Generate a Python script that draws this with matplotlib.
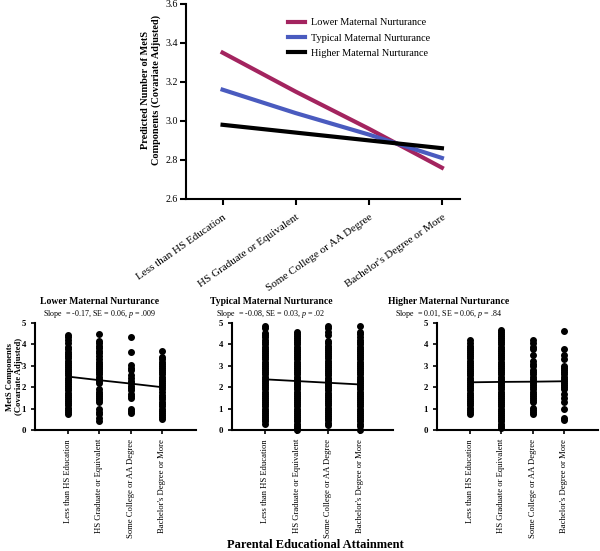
import matplotlib.pyplot as plt
import numpy as np

plt.rcParams['font.family'] = 'Liberation Serif'
plt.rcParams['mathtext.fontset'] = 'custom'
plt.rcParams['mathtext.it'] = 'Liberation Serif:italic'
plt.rcParams['mathtext.rm'] = 'Liberation Serif'

categories = ['Less than HS Education', 'HS Graduate or Equivalent',
              'Some College or AA Degree', "Bachelor's Degree or More"]

# predicted values (top panel)
lower_pred = [3.35, 3.15, 2.96, 2.76]
typical_pred = [3.16, 3.04, 2.93, 2.81]
higher_pred = [2.98, 2.94, 2.90, 2.86]
series_names = ['Lower Maternal Nurturance', 'Typical Maternal Nurturance', 'Higher Maternal Nurturance']
series_colors = ['#a3245f', '#4a5bbf', '#000000']

# scatter points per category (bottom panels)
lower_pts = [
    [0.75, 0.85, 0.95, 1.05, 1.15, 1.25, 1.35, 1.45, 1.55, 1.65, 1.75, 1.85, 1.95, 2.05, 2.15, 2.25,
     2.35, 2.45, 2.55, 2.65, 2.75, 2.85, 2.95, 3.05, 3.15, 3.25, 3.35, 3.45, 3.55, 3.65, 3.8, 3.9,
     4.05, 4.2, 4.35, 4.45],
    [0.4, 0.55, 0.75, 0.85, 1.0, 1.3, 1.4, 1.5, 1.6, 1.7, 1.8, 1.9, 2.2, 2.3, 2.4, 2.5, 2.6, 2.7,
     2.8, 2.9, 3.0, 3.1, 3.2, 3.3, 3.45, 3.6, 3.7, 3.85, 3.95, 4.05, 4.15, 4.5],
    [0.8, 0.9, 1.0, 1.5, 1.6, 1.7, 1.85, 1.95, 2.05, 2.2, 2.3, 2.45, 2.55, 2.8, 2.9, 3.05, 3.65, 4.35],
    [0.5, 0.6, 0.7, 0.8, 0.9, 1.0, 1.1, 1.2, 1.3, 1.45, 1.55, 1.65, 1.8, 1.9, 2.0, 2.1, 2.2, 2.3,
     2.4, 2.5, 2.6, 2.7, 2.8, 2.9, 3.0, 3.1, 3.2, 3.3, 3.4, 3.7],
]
lower_fit = [2.50, 2.33, 2.17, 2.00]

typical_pts = [
    [0.3, 0.4, 0.5, 0.6, 0.7, 0.8, 0.9, 1.0, 1.1, 1.2, 1.3, 1.4, 1.5, 1.6, 1.7, 1.8, 1.9, 2.0, 2.1,
     2.2, 2.3, 2.4, 2.5, 2.6, 2.7, 2.8, 2.9, 3.0, 3.1, 3.2, 3.3, 3.4, 3.5, 3.6, 3.7, 3.8, 3.9, 4.0,
     4.1, 4.2, 4.35, 4.45, 4.55, 4.75, 4.88],
    [0.0, 0.1, 0.2, 0.3, 0.4, 0.5, 0.6, 0.7, 0.8, 0.9, 1.0, 1.1, 1.2, 1.3, 1.4, 1.5, 1.6, 1.7, 1.8,
     1.9, 2.0, 2.1, 2.2, 2.3, 2.4, 2.5, 2.6, 2.7, 2.8, 2.9, 3.0, 3.1, 3.2, 3.3, 3.4, 3.5, 3.6, 3.7,
     3.8, 3.9, 4.0, 4.1, 4.2, 4.3, 4.4, 4.5, 4.6],
    [0.25, 0.35, 0.45, 0.55, 0.65, 0.75, 0.85, 0.95, 1.05, 1.15, 1.25, 1.35, 1.45, 1.55, 1.65, 1.75,
     1.85, 1.95, 2.05, 2.15, 2.25, 2.35, 2.45, 2.55, 2.65, 2.75, 2.85, 2.95, 3.05, 3.15, 3.25, 3.35,
     3.45, 3.55, 3.65, 3.75, 3.85, 3.95, 4.05, 4.15, 4.45, 4.6, 4.75, 4.85],
    [0.0, 0.2, 0.3, 0.4, 0.5, 0.6, 0.7, 0.8, 0.9, 1.0, 1.1, 1.2, 1.3, 1.4, 1.5, 1.6, 1.7, 1.8, 1.9,
     2.0, 2.1, 2.2, 2.3, 2.4, 2.5, 2.6, 2.7, 2.8, 2.9, 3.0, 3.1, 3.2, 3.3, 3.4, 3.5, 3.6, 3.7, 3.8,
     3.9, 4.0, 4.1, 4.2, 4.35, 4.5, 4.6, 4.85],
]
typical_fit = [2.37, 2.29, 2.21, 2.13]

higher_pts = [
    [0.75, 0.85, 0.95, 1.05, 1.15, 1.25, 1.35, 1.45, 1.55, 1.65, 1.75, 1.85, 1.95, 2.05, 2.15, 2.25,
     2.35, 2.45, 2.55, 2.65, 2.75, 2.85, 2.95, 3.05, 3.15, 3.25, 3.35, 3.45, 3.55, 3.65, 3.75, 3.85,
     3.95, 4.05, 4.2],
    [0.1, 0.2, 0.3, 0.4, 0.5, 0.6, 0.7, 0.8, 0.9, 1.0, 1.1, 1.2, 1.3, 1.4, 1.5, 1.6, 1.7, 1.8, 1.9,
     2.0, 2.1, 2.2, 2.3, 2.4, 2.5, 2.6, 2.7, 2.8, 2.9, 3.0, 3.1, 3.2, 3.3, 3.4, 3.5, 3.6, 3.7, 3.8,
     3.9, 4.0, 4.1, 4.2, 4.3, 4.4, 4.5, 4.6, 4.7],
    [0.75, 0.85, 0.95, 1.05, 1.3, 1.4, 1.5, 1.6, 1.7, 1.8, 1.9, 2.0, 2.1, 2.2, 2.3, 2.4, 2.5, 2.6,
     2.7, 2.8, 3.0, 3.1, 3.25, 3.5, 3.8, 3.9, 4.05, 4.2],
    [0.45, 0.55, 1.0, 1.3, 1.5, 1.7, 1.9, 2.0, 2.1, 2.2, 2.3, 2.4, 2.5, 2.6, 2.7, 2.8, 2.9, 3.0,
     3.3, 3.5, 3.8, 4.65],
]
higher_fit = [2.23, 2.25, 2.26, 2.28]

panel_titles = ['Lower Maternal Nurturance', 'Typical Maternal Nurturance', 'Higher Maternal Nurturance']
panel_stats = [r'Slope  = -0.17, SE = 0.06, $\it{p}$ = .009',
               r'Slope  = -0.08, SE = 0.03, $\it{p}$ = .02',
               r'Slope  = 0.01, SE = 0.06, $\it{p}$ = .84']

fig = plt.figure(figsize=(6, 5.51), dpi=100)

# top line chart
ax = fig.add_axes([0.31, 0.639, 0.457, 0.354])
x = np.arange(len(categories))
for vals, name, col in zip([lower_pred, typical_pred, higher_pred], series_names, series_colors):
    ax.plot(x, vals, color=col, lw=3, label=name)
ax.set_xlim(-0.5, 3.25)
ax.set_ylim(2.6, 3.6)
ax.set_yticks([2.6, 2.8, 3.0, 3.2, 3.4, 3.6])
ax.set_yticklabels(['2.6', '2.8', '3.0', '3.2', '3.4', '3.6'], fontsize=7.2)
ax.set_xticks(x)
ax.set_xticklabels(categories, rotation=35, ha='right', rotation_mode='anchor', fontsize=8)
ax.spines['top'].set_visible(False)
ax.spines['right'].set_visible(False)
ax.spines['left'].set_linewidth(1.5)
ax.spines['bottom'].set_linewidth(1.5)
ax.tick_params(width=1.5, length=4)
ax.tick_params(axis='y', pad=2)
ax.tick_params(axis='x', pad=6)
ax.set_ylabel('Predicted Number of MetS\nComponents (Covariate Adjusted)', fontsize=7.4,
              fontweight='bold')
ax.yaxis.set_label_coords(-0.09, 0.56)
ax.legend(loc='upper left', bbox_to_anchor=(0.34, 0.975), frameon=False, fontsize=7.4,
          handlelength=1.6, handletextpad=0.6, labelspacing=0.6)

# bottom scatter panels
lefts = [0.058, 0.387, 0.728]
for i, (pts, fit) in enumerate(zip([lower_pts, typical_pts, higher_pts],
                                   [lower_fit, typical_fit, higher_fit])):
    a = fig.add_axes([lefts[i], 0.2196, 0.268, 0.194])
    for j, col_vals in enumerate(pts):
        a.scatter(np.full(len(col_vals), j), col_vals, s=16, color='black', zorder=3, clip_on=False)
    a.plot(x, fit, color='black', lw=1.3, zorder=4)
    a.set_xlim(-1.04, 4.05)
    a.set_ylim(0, 5)
    a.set_yticks([0, 1, 2, 3, 4, 5])
    a.set_yticklabels(['0', '1', '2', '3', '4', '5'], fontsize=6.3, fontweight='bold')
    a.set_xticks(x)
    a.set_xticklabels(categories, rotation=90, fontsize=6.2)
    a.spines['top'].set_visible(False)
    a.spines['right'].set_visible(False)
    a.spines['left'].set_linewidth(1.5)
    a.spines['bottom'].set_linewidth(1.5)
    a.tick_params(width=1.2, length=3)
    if i == 0:
        a.set_ylabel('MetS Components\n(Covariate Adjusted)', fontsize=6.2, fontweight='bold')
        a.yaxis.set_label_coords(-0.075, 0.5)

title_x = [100 / 600, 271 / 600, 449 / 600]
for tx, t, s in zip(title_x, panel_titles, panel_stats):
    fig.text(tx, 1 - 302 / 551, t, ha='center', va='center', fontsize=6.9, fontweight='bold')
    fig.text(tx, 1 - 314 / 551, s, ha='center', va='center', fontsize=5.8)

fig.text(315 / 600, 1 - 545 / 551, 'Parental Educational Attainment', ha='center', va='center',
         fontsize=9, fontweight='bold')

plt.savefig('out.png', dpi=100)
